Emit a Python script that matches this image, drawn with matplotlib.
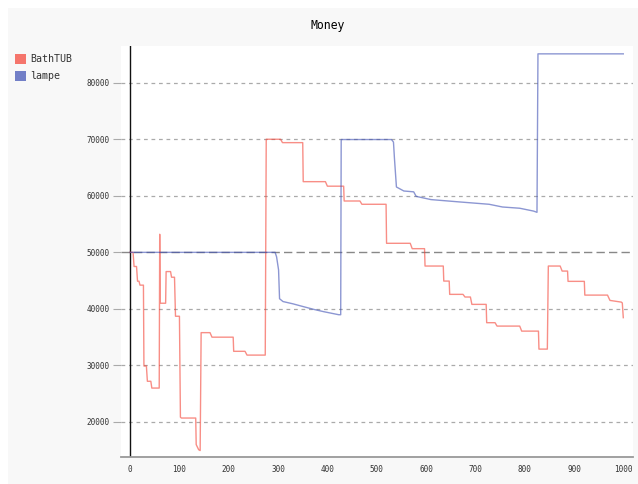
"""
plot.py - Money per step for BathTUB and lampe.
"""

import matplotlib.pyplot as plt
from matplotlib.patches import Rectangle

# BathTUB series (step breakpoints)
bath_x = [0, 6, 8, 13, 15, 18, 20, 27, 28, 33, 35, 42, 44, 59, 60, 61, 72, 73, 82, 84, 90, 92,
          100, 102, 104, 133, 134, 139, 142, 144, 162, 166, 209, 210, 233, 237, 274, 276, 305,
          309, 350, 351, 396, 400, 433, 434, 466, 470, 519, 520, 568, 572, 597, 598, 635, 636,
          647, 648, 675, 679, 690, 693, 722, 723, 740, 744, 790, 794, 828, 829, 846, 848, 872,
          876, 887, 888, 921, 922, 968, 973, 996, 998, 1000]
bath_y = [50000, 50000, 47500, 47500, 44900, 44900, 44200, 44200, 29900, 29900, 27200, 27200,
          26000, 26000, 53200, 41000, 41000, 46600, 46600, 45600, 45600, 38700, 38700, 20850,
          20700, 20700, 16000, 15100, 14950, 35800, 35800, 35000, 35000, 32500, 32500, 31830,
          31830, 70000, 70000, 69400, 69400, 62500, 62500, 61700, 61700, 59080, 59080, 58500,
          58500, 51600, 51600, 50650, 50650, 47580, 47580, 44920, 44920, 42570, 42570, 42100,
          42100, 40800, 40800, 37560, 37560, 36960, 36960, 36070, 36070, 32890, 32890, 47580,
          47580, 46690, 46690, 44870, 44870, 42440, 42440, 41500, 41200, 41050, 38450]

# lampe series
lampe_x = [0, 294, 297, 301, 303, 310, 330, 347, 373, 393, 423, 427, 428, 530, 534, 536, 540,
           555, 575, 580, 610, 670, 728, 755, 790, 818, 825, 827, 1000]
lampe_y = [50000, 50000, 49200, 46900, 41800, 41300, 40900, 40500, 39900, 39500, 38970, 38970,
           69950, 69950, 69500, 66600, 61560, 60850, 60700, 59900, 59330, 58900, 58500, 58020,
           57800, 57300, 57080, 85100, 85100]

y_ticks = [20000, 30000, 40000, 50000, 60000, 70000, 80000]
x_ticks = [0, 100, 200, 300, 400, 500, 600, 700, 800, 900, 1000]

RED = "#F44336"
BLUE = "#3F51B5"
MONO = "DejaVu Sans Mono"

W, H = 638, 484
fig = plt.figure(figsize=(W / 100, H / 100), dpi=100, facecolor="white")
fig.patches.append(Rectangle((8 / W, 0), 1 - 8 / W, 1 - 8 / H, transform=fig.transFigure,
                             facecolor="#f8f8f8", edgecolor="none", zorder=-10))

left, right, top, bottom = 120.7, 633, 46, 457
ax = fig.add_axes([left / W, 1 - bottom / H, (right - left) / W, (bottom - top) / H])
ax.set_facecolor("white")

ax.plot(bath_x, bath_y, color=RED, alpha=0.6, linewidth=1.0, zorder=3)
ax.plot(lampe_x, lampe_y, color=BLUE, alpha=0.6, linewidth=1.0, zorder=3)

# grid lines: 50000 is the major one
for v in y_ticks:
    if v == 50000:
        ax.axhline(v, color="#888888", linewidth=1.0, dashes=(6, 3), zorder=1)
    else:
        ax.axhline(v, color="#aaaaaa", linewidth=0.9, dashes=(3, 3), zorder=1)

ax.axvline(0, color="#111111", linewidth=1.0, zorder=2)

ax.set_xlim(-19.1, 1019.7)
ax.set_ylim(13810, 86490)

for s in ["top", "right", "left"]:
    ax.spines[s].set_visible(False)
ax.spines["bottom"].set_color("#999999")
ax.spines["bottom"].set_linewidth(1.3)

ax.set_yticks(y_ticks)
ax.set_yticklabels([str(v) for v in y_ticks], fontsize=5.5, family=MONO, color="#333333")
ax.set_xticks(x_ticks)
ax.set_xticklabels([str(v) for v in x_ticks], fontsize=5.5, family=MONO, color="#333333")
ax.tick_params(axis="y", length=6, width=0.8, color="#aaaaaa", pad=2)
ax.tick_params(axis="x", length=0, pad=6)

fig.text(328 / W, 1 - 25 / H, "Money", fontsize=8.3, family=MONO, color="#000000",
         ha="center", va="center")

# legend
for i, (name, col) in enumerate([("BathTUB", RED), ("lampe", BLUE)]):
    cy = 59 + i * 17
    fig.patches.append(Rectangle((15.3 / W, 1 - (cy + 5.2) / H), 10.5 / W, 10.4 / H,
                                 transform=fig.transFigure, facecolor=col, alpha=0.72,
                                 edgecolor="none"))
    fig.text(30 / W, 1 - cy / H, name, fontsize=7.2, family=MONO, color="#333333",
             ha="left", va="center")

plt.savefig("out.png", dpi=100)
print("Saved: out.png")
